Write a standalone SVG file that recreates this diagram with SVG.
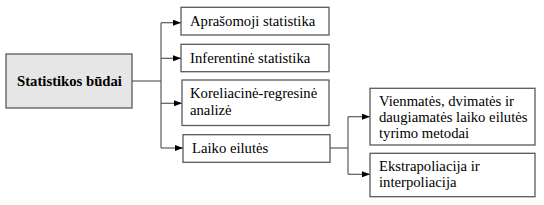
<svg xmlns="http://www.w3.org/2000/svg" width="544" height="205" viewBox="0 0 544 205">
<style>
.box{fill:#ffffff;stroke:#5a5a5a;stroke-width:1.3}
.main{fill:#e6e6e6;stroke:#5a5a5a;stroke-width:1.3}
.c{fill:none;stroke:#5a5a5a;stroke-width:1.2}
</style>
<defs>
<marker id="ah" markerWidth="8" markerHeight="6" refX="8" refY="3" orient="auto" markerUnits="userSpaceOnUse">
<path d="M0,0 L8,3 L0,6 Z" fill="#000"/>
</marker>
</defs>
<rect width="544" height="205" fill="#ffffff"/>
<g id="connectors">
<path class="c" d="M132,81 H161"/>
<path class="c" d="M161,22.7 V148"/>
<path class="c" d="M161,22.7 H181" marker-end="url(#ah)"/>
<path class="c" d="M161,58.3 H181" marker-end="url(#ah)"/>
<path class="c" d="M161,103.3 H182" marker-end="url(#ah)"/>
<path class="c" d="M161,148 H183" marker-end="url(#ah)"/>
<path class="c" d="M330,148 H348"/>
<path class="c" d="M348,116.7 V174.3"/>
<path class="c" d="M348,116.7 H370" marker-end="url(#ah)"/>
<path class="c" d="M348,174.3 H370" marker-end="url(#ah)"/>
</g>
<g font-family="Liberation Serif, Times New Roman, serif" font-size="14.7" fill="#000">
<g id="n0">
<rect class="main" x="6" y="54" width="126" height="54"/>
<text x="69.5" y="86" text-anchor="middle" font-weight="bold">Statistikos būdai</text>
</g>
<g id="n1">
<rect class="box" x="181" y="7.3" width="148" height="27.7"/>
<text x="190" y="26.3">Aprašomoji statistika</text>
</g>
<g id="n2">
<rect class="box" x="181" y="44.3" width="148" height="27.4"/>
<text x="190" y="62.5">Inferentinė statistika</text>
</g>
<g id="n3">
<rect class="box" x="182" y="80" width="147" height="45.5"/>
<text x="190" y="98">Koreliacinė-regresinė</text>
<text x="190" y="115">analizė</text>
</g>
<g id="n4">
<rect class="box" x="183" y="134.7" width="147" height="27.6"/>
<text x="192" y="152.5">Laiko eilutės</text>
</g>
<g id="n5">
<rect class="box" x="370" y="88.3" width="165" height="56.7"/>
<text x="379" y="106">Vienmatės, dvimatės ir</text>
<text x="379" y="121.5">daugiamatės laiko eilutės</text>
<text x="379" y="137.5">tyrimo metodai</text>
</g>
<g id="n6">
<rect class="box" x="370" y="153.3" width="165" height="43.4"/>
<text x="379" y="170.5">Ekstrapoliacija ir</text>
<text x="379" y="186.5">interpoliacija</text>
</g>
</g>
</svg>
